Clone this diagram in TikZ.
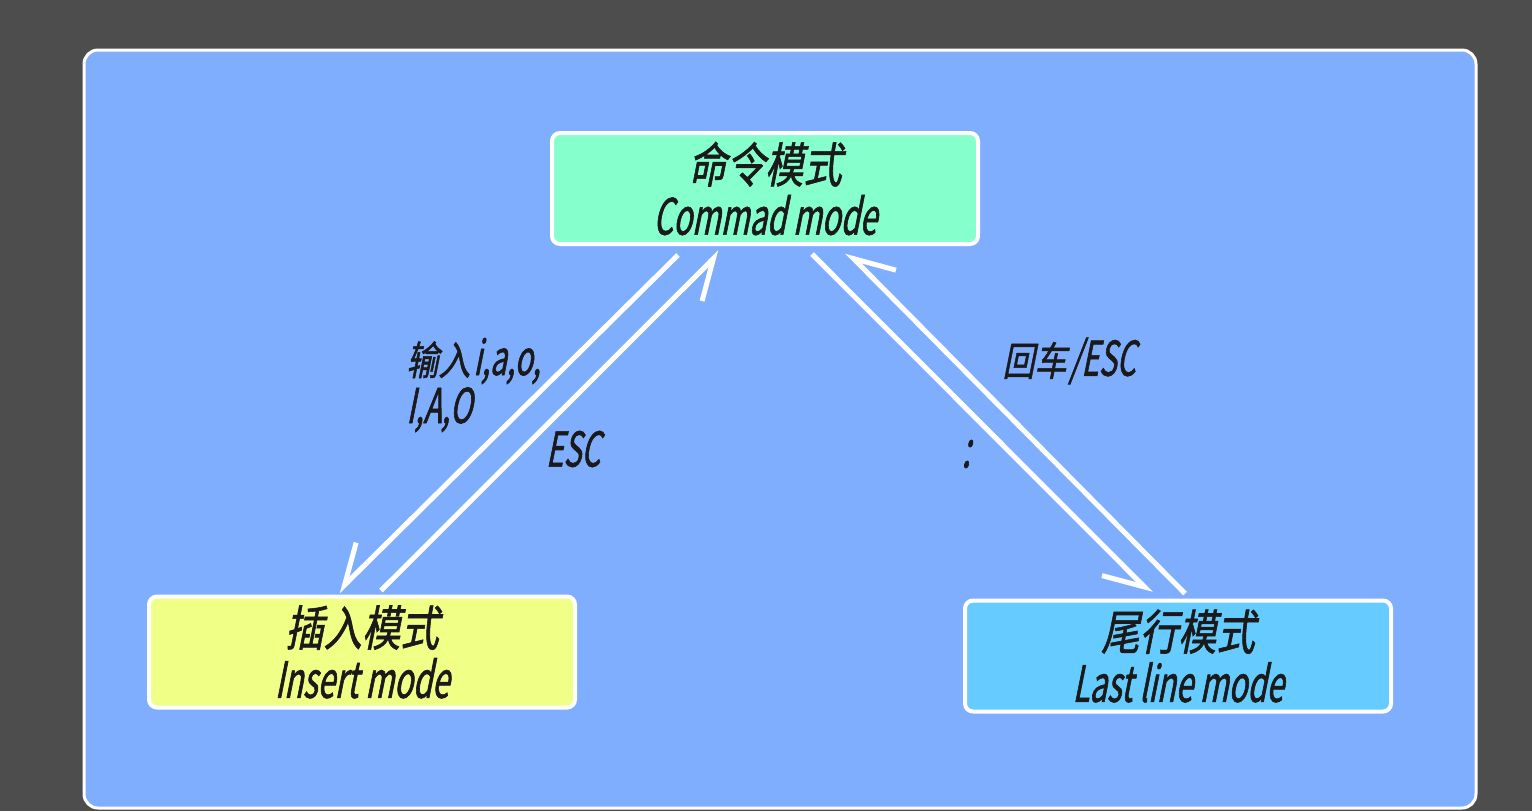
\documentclass[tikz,border=0pt]{standalone}
\usepackage{fontspec}
\setmainfont{Noto Sans CJK SC}[FakeSlant=0.2,FakeStretch=0.78]
\newfontfamily\cnfont{Noto Sans CJK SC}[FakeSlant=0.2,FakeStretch=0.8,FakeBold=1.2]
\newfontfamily\enfont{Noto Sans CJK SC}[FakeSlant=0.2,FakeStretch=0.62,FakeBold=1.2]
\usetikzlibrary{arrows.meta}

\definecolor{darkbg}{HTML}{4D4D4D}
\definecolor{panelblue}{HTML}{80AEFF}
\definecolor{cmdgreen}{HTML}{85FFCC}
\definecolor{insyellow}{HTML}{F0FF85}
\definecolor{lastcyan}{HTML}{66CCFF}
\definecolor{inkblack}{HTML}{1A1A1A}

% Chinese and Latin parts of a label, each in its own size
\newcommand{\cnpart}[2]{{\fontsize{#1}{#1}\selectfont\cnfont #2}}
\newcommand{\enpart}[2]{{\fontsize{#1}{#1}\selectfont\enfont #2}}

\tikzset{
  modebox/.style={draw=white, line width=2pt, rounded corners=4pt,
    minimum width=213pt, minimum height=55.5pt, inner sep=0pt,
    align=center, text=inkblack, font=\fontsize{24pt}{25pt}\selectfont},
  switch/.style={draw=white, line width=2.5pt,
    -{Straight Barb[harpoon,swap,length=19pt,width=22pt]}},
  keylabel/.style={text=inkblack, inner sep=0pt,
    font=\fontsize{20pt}{24pt}\selectfont},
}

\begin{document}
\begin{tikzpicture}[x=0.5pt, y=-0.5pt]
  % background and panel
  \fill[darkbg] (0,0) rectangle (1532,811);
  \useasboundingbox (0,0) rectangle (1532,811);
  \draw[fill=panelblue, draw=white, line width=1.5pt, rounded corners=7pt]
    (84,50) rectangle (1476,808);

  % the three modes
  \node[modebox, fill=cmdgreen] (cmd) at (765,188.5)
    {\cnpart{24pt}{命令模式}\\[1pt]\enpart{25pt}{Commad mode}};
  \node[modebox, fill=insyellow] (ins) at (362,652)
    {\cnpart{24pt}{插入模式}\\[1pt]\enpart{25pt}{Insert mode}};
  \node[modebox, fill=lastcyan] (last) at (1178,656)
    {\cnpart{24pt}{尾行模式}\\[1pt]\enpart{25pt}{Last line mode}};

  % switching between modes
  \draw[switch] ([shift={(128,9)}]cmd.south west) -- ([shift={(191,-3)}]ins.north west);
  \draw[switch] ([shift={(234,-4)}]ins.north west) -- ([shift={(170,6)}]cmd.south west);
  \draw[switch] ([shift={(-168,8)}]cmd.south east) -- ([shift={(188,-5)}]last.north west);
  \draw[switch] ([shift={(222,-5)}]last.north west) -- ([shift={(-133,6)}]cmd.south east);

  % keys
  \node[keylabel, anchor=west, align=left] (insKeys) at (406,385)
    {\cnpart{20pt}{输入}\kern1.5pt\enpart{24pt}{i,a,o,}\\\enpart{24pt}{I,A,O}};
  \node[keylabel] (escKey) at (573,449) {\enpart{24pt}{ESC}};
  \node[keylabel] (backKey) at (1069,361) {\cnpart{20pt}{回车}\kern1.5pt\enpart{24pt}{/ESC}};
  \node[keylabel] (colonKey) at (966,454) {\enpart{26pt}{:}};
\end{tikzpicture}
\end{document}
